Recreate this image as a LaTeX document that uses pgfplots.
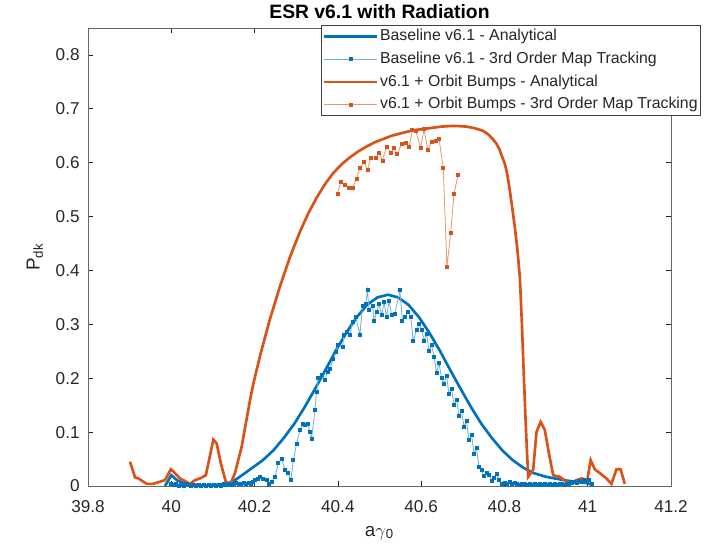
\documentclass[border=0pt]{standalone}
\usepackage{pgfplots}
\pgfplotsset{compat=1.18}
\usepackage{fontspec}
\setmainfont{Liberation Sans}
\definecolor{mblue}{RGB}{0,114,189}
\definecolor{morange}{RGB}{217,83,25}
\definecolor{mtext}{RGB}{38,38,38}
\begin{document}
\begin{tikzpicture}
\useasboundingbox (-52.8pt,-34.8pt) rectangle (377.4pt,291.6pt);
\begin{axis}[
  at={(0pt,0pt)}, anchor=south west,
  scale only axis, width=349.8pt, height=274.8pt,
  xmin=39.8, xmax=41.2, ymin=0, ymax=0.85,
  xtick={39.8,40,40.2,40.4,40.6,40.8,41,41.2},
  xticklabels={39.8,40,40.2,40.4,40.6,40.8,41,41.2},
  ytick={0,0.1,0.2,0.3,0.4,0.5,0.6,0.7,0.8},
  yticklabels={0,0.1,0.2,0.3,0.4,0.5,0.6,0.7,0.8},
  tick align=inside, major tick length=3pt,
  tick style={mtext, line width=0.4pt},
  axis line style={black!60, line width=0.5pt},
  ticklabel style={font=\fontsize{10.3}{12}\selectfont, text=mtext},
  xticklabel style={yshift=-5pt},
  yticklabel style={xshift=-1.5pt},
  title={ESR v6.1 with Radiation},
  title style={at={(0.5,1.013)}, anchor=center, font=\fontsize{11.6}{13}\selectfont\bfseries, text=black},
  xlabel={a{$\gamma$}\textsubscript{0}},
  ylabel={P\textsubscript{dk}},
  xlabel style={at={(0.5,-0.102)}, anchor=center, font=\fontsize{11.3}{13}\selectfont, text=mtext},
  ylabel style={at={(-0.091,0.5)}, anchor=center, font=\fontsize{11.3}{13}\selectfont, text=mtext},
  legend style={at={(1.0515,1.0066)}, anchor=north east, draw=black!75, line width=0.5pt,
    font=\fontsize{9.5}{11}\selectfont, text=mtext, inner xsep=1pt, inner ysep=1.2pt,
    nodes={inner sep=0.8pt, text height=7.2pt, text depth=2.2pt}, row sep=2.6pt},
  legend cell align=left,
  legend image code/.code={\draw[mark repeat=2,mark phase=2,#1] plot coordinates {(0pt,0pt) (16pt,0pt) (32pt,0pt)};},
]
% Baseline analytical
\addplot[mblue, line width=1.6pt] coordinates {
(39.985,0.0) (40.0,0.02) (40.015,0.01) (40.04,0.003) (40.08,0.001) (40.12,0.003)
(40.14,0.006) (40.155,0.012) (40.17,0.02) (40.195,0.034) (40.22,0.048) (40.245,0.066)
(40.27,0.089) (40.295,0.115) (40.32,0.146) (40.345,0.18) (40.37,0.215) (40.395,0.251)
(40.42,0.284) (40.445,0.313) (40.47,0.336) (40.495,0.35) (40.52,0.355) (40.545,0.35)
(40.57,0.336) (40.595,0.313) (40.62,0.284) (40.645,0.251) (40.67,0.215) (40.695,0.18)
(40.72,0.146) (40.745,0.115) (40.77,0.089) (40.795,0.066) (40.82,0.048) (40.845,0.034)
(40.87,0.024) (40.9,0.017) (40.95,0.01) (41.0,0.005) (41.01,0.003)};
\addlegendentry{Baseline v6.1 - Analytical}
% Baseline tracking
\addplot[mblue!55!white, line width=0.5pt, mark=square*, mark size=0.9pt, mark options={mblue, solid}] coordinates {
(40.000,0.004) (40.006,0.002) (40.012,0.003) (40.018,0.001) (40.024,0.002) (40.030,0.001)
(40.036,0.003) (40.042,0.002) (40.048,0.001) (40.054,0.002) (40.060,0.001) (40.066,0.002)
(40.072,0.001) (40.078,0.002) (40.084,0.001) (40.090,0.002) (40.096,0.001) (40.102,0.002)
(40.108,0.001) (40.114,0.002) (40.120,0.001) (40.126,0.003) (40.132,0.002) (40.138,0.004)
(40.144,0.002) (40.150,0.003) (40.156,0.005) (40.162,0.003) (40.168,0.004) (40.174,0.006)
(40.180,0.003) (40.186,0.005) (40.192,0.004) (40.197,0.008)
(40.201,0.011) (40.207,0.014) (40.213,0.017) (40.221,0.014) (40.229,0.011) (40.235,0.004)
(40.241,0.008) (40.249,0.017) (40.257,0.042) (40.265,0.051) (40.273,0.030) (40.281,0.024)
(40.287,0.011) (40.293,0.048) (40.301,0.079) (40.309,0.104) (40.315,0.116) (40.321,0.114)
(40.327,0.116) (40.333,0.100) (40.337,0.088) (40.345,0.141) (40.349,0.175) (40.353,0.200)
(40.361,0.206) (40.369,0.196) (40.375,0.212) (40.381,0.218) (40.389,0.236) (40.395,0.249)
(40.401,0.261) (40.411,0.258) (40.415,0.280) (40.421,0.286) (40.429,0.280) (40.435,0.304)
(40.443,0.314) (40.453,0.280) (40.459,0.335) (40.467,0.338) (40.471,0.363) (40.475,0.326)
(40.483,0.335) (40.487,0.307) (40.493,0.323) (40.499,0.338) (40.505,0.317) (40.511,0.341)
(40.517,0.314) (40.523,0.344) (40.529,0.317) (40.537,0.320) (40.549,0.363) (40.555,0.307)
(40.561,0.314) (40.569,0.323) (40.575,0.314) (40.581,0.270) (40.589,0.289) (40.595,0.301)
(40.601,0.290) (40.607,0.270) (40.613,0.282) (40.619,0.250) (40.625,0.262) (40.631,0.240)
(40.637,0.210) (40.643,0.228) (40.649,0.200) (40.655,0.190) (40.661,0.205) (40.667,0.170)
(40.673,0.180) (40.679,0.150) (40.685,0.160) (40.691,0.130) (40.697,0.140) (40.703,0.110)
(40.709,0.120) (40.715,0.085) (40.721,0.095) (40.727,0.060) (40.733,0.070) (40.739,0.035)
(40.745,0.030) (40.751,0.018) (40.757,0.025) (40.763,0.020) (40.769,0.010) (40.775,0.015)
(40.781,0.022) (40.787,0.012) (40.795,0.004) (40.801,0.006) (40.807,0.004) (40.813,0.007)
(40.819,0.003) (40.825,0.005) (40.831,0.004) (40.837,0.002) (40.843,0.004) (40.849,0.003)
(40.855,0.002) (40.861,0.003) (40.867,0.002) (40.873,0.004) (40.879,0.002) (40.885,0.003)
(40.891,0.002) (40.897,0.003) (40.903,0.002) (40.909,0.004) (40.915,0.002) (40.921,0.003)
(40.927,0.002) (40.933,0.004) (40.939,0.003) (40.945,0.002) (40.951,0.004) (40.955,0.003)
(40.961,0.005) (40.967,0.008) (40.973,0.006) (40.979,0.010) (40.985,0.007) (40.991,0.012)
(40.997,0.008) (41.003,0.012) (41.009,0.004)};
\addlegendentry{Baseline v6.1 - 3rd Order Map Tracking}
% Orbit bumps analytical
\addplot[morange, line width=1.6pt] coordinates {
(39.901,0.045) (39.913,0.016) (39.921,0.014) (39.941,0.004) (39.956,0.004) (39.973,0.008)
(39.985,0.011) (39.999,0.031) (40.005,0.027) (40.021,0.014) (40.045,0.004) (40.057,0.011)
(40.069,0.014) (40.083,0.020) (40.101,0.086) (40.109,0.079) (40.119,0.042) (40.131,0.008)
(40.141,0.002) (40.153,0.024) (40.169,0.073) (40.189,0.159) (40.197,0.190) (40.215,0.247)
(40.237,0.310) (40.260,0.368) (40.285,0.425) (40.309,0.472) (40.329,0.506) (40.349,0.535)
(40.369,0.560) (40.389,0.581) (40.409,0.597) (40.429,0.610) (40.449,0.621) (40.469,0.630)
(40.489,0.638) (40.509,0.644) (40.529,0.650) (40.549,0.654) (40.569,0.658) (40.589,0.661)
(40.609,0.663) (40.629,0.665) (40.649,0.667) (40.669,0.668) (40.689,0.668) (40.709,0.667)
(40.729,0.664) (40.749,0.659) (40.762,0.652) (40.772,0.644) (40.781,0.635) (40.788,0.625)
(40.794,0.612) (40.801,0.598) (40.807,0.578) (40.813,0.548) (40.819,0.515) (40.825,0.480)
(40.831,0.440) (40.837,0.388) (40.842,0.300) (40.847,0.196) (40.852,0.100) (40.857,0.017)
(40.869,0.030) (40.877,0.100) (40.887,0.119) (40.897,0.104) (40.907,0.060) (40.917,0.020)
(40.933,0.017) (40.949,0.008) (40.957,0.004) (40.973,0.011) (40.985,0.014) (40.999,0.011)
(41.007,0.048) (41.017,0.031) (41.029,0.024) (41.045,0.014) (41.057,0.004) (41.069,0.031)
(41.079,0.031) (41.089,0.004)};
\addlegendentry{v6.1 + Orbit Bumps - Analytical}
% Orbit bumps tracking
\addplot[morange!60!white, line width=0.5pt, mark=square*, mark size=0.9pt, mark options={morange, solid}] coordinates {
(40.399,0.542) (40.407,0.564) (40.417,0.559) (40.427,0.554) (40.435,0.554) (40.445,0.570)
(40.453,0.591) (40.463,0.601) (40.471,0.586) (40.479,0.609) (40.491,0.609) (40.499,0.619)
(40.507,0.604) (40.517,0.630) (40.527,0.619) (40.535,0.627) (40.543,0.616) (40.553,0.635)
(40.563,0.636) (40.571,0.630) (40.579,0.660) (40.587,0.659) (40.599,0.628) (40.607,0.662)
(40.616,0.624) (40.625,0.639) (40.635,0.641) (40.643,0.644) (40.653,0.591) (40.662,0.407)
(40.671,0.470) (40.679,0.543) (40.689,0.578)};
\addlegendentry{v6.1 + Orbit Bumps - 3rd Order Map Tracking}
\end{axis}
\end{tikzpicture}
\end{document}
